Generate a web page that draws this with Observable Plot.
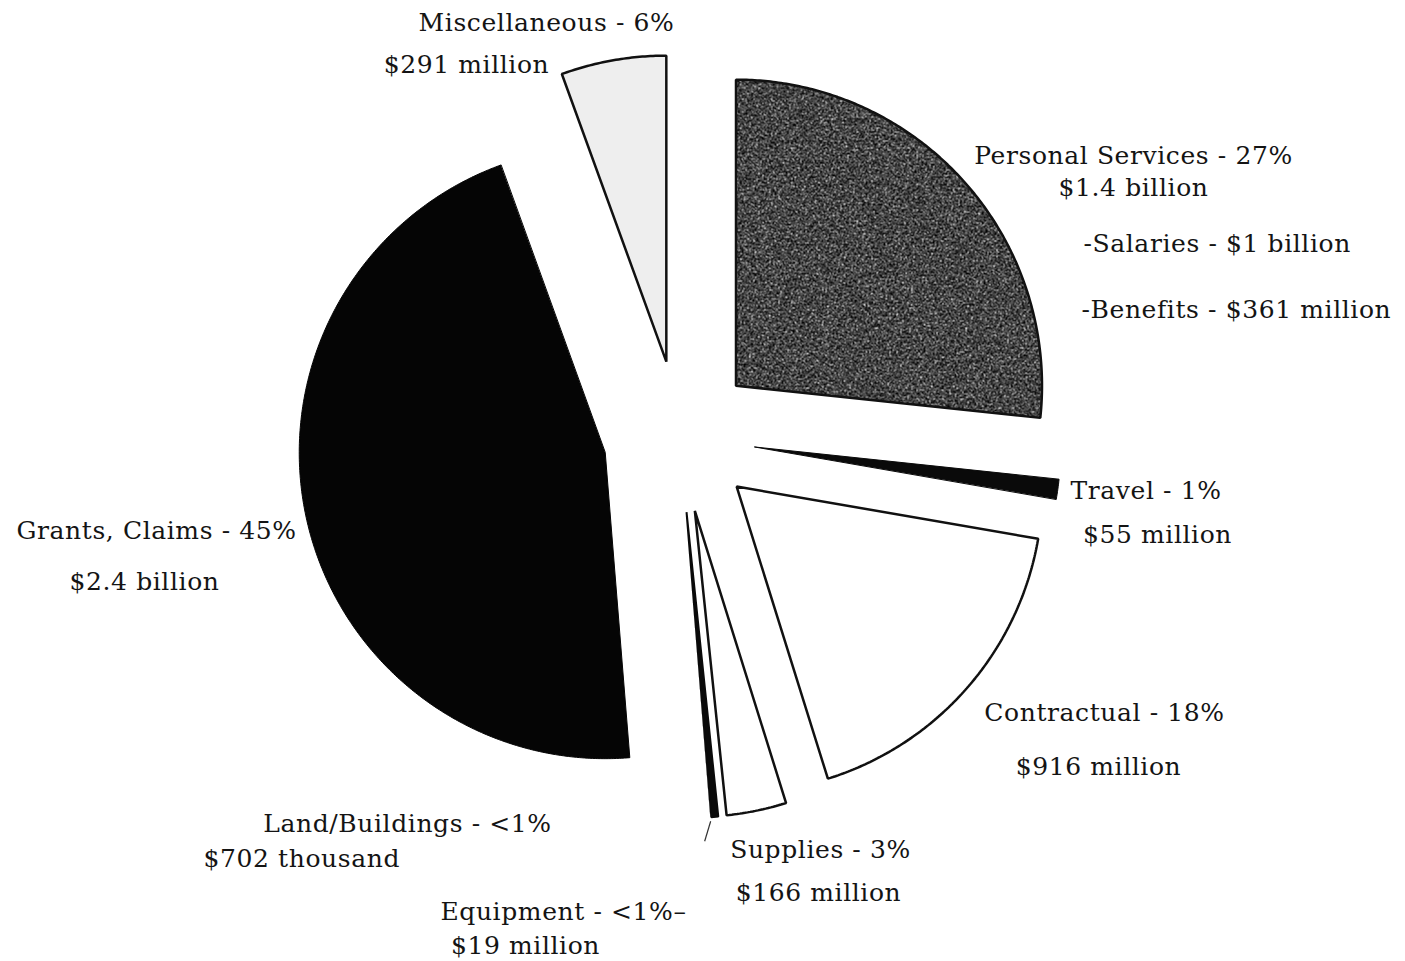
<!DOCTYPE html>
<html>
<head>
<meta charset="utf-8">
<script src="https://cdn.jsdelivr.net/npm/d3@7"></script>
<script src="https://cdn.jsdelivr.net/npm/@observablehq/plot@0.6"></script>
<style>
  html, body { margin: 0; padding: 0; background: #ffffff; }
  #chart svg { display: block; }
  #chart svg text { letter-spacing: 0.6px; }
</style>
</head>
<body>
<div id="chart"></div>
<script>
// ---------------- data ----------------
const categories = ["Personal Services", "Travel", "Contractual", "Supplies", "Equipment", "Land/Buildings", "Grants, Claims", "Miscellaneous"];
const amounts = [1400, 55, 916, 166, 19, 0.702, 2400, 291]; // $ millions
const percentLabels = ["27%", "1%", "18%", "3%", "<1%", "<1%", "45%", "6%"];
const amountLabels = ["$1.4 billion", "$55 million", "$916 million", "$166 million", "$19 million", "$702 thousand", "$2.4 billion", "$291 million"];
const subItemLabels = ["-Salaries - $1 billion", "-Benefits - $361 million"];

// ---------------- layout / styles ----------------
const W = 1405, H = 961;
const pieCenter = {x: 679, y: 436};
const pieRadius = 306;
const explode = 76;
const sliceStyles = {
  "Personal Services": {fill: "url(#grain)", stroke: "#111", strokeWidth: 2.5},
  "Travel":            {fill: "#0a0a0a", stroke: "#0a0a0a", strokeWidth: 1},
  "Contractual":       {fill: "#ffffff", stroke: "#111", strokeWidth: 2.5},
  "Supplies":          {fill: "#ffffff", stroke: "#111", strokeWidth: 2.5},
  "Equipment":         {fill: "#0a0a0a", stroke: "#0a0a0a", strokeWidth: 2},
  "Land/Buildings":    {fill: "#0a0a0a", stroke: "none", strokeWidth: 0},
  "Grants, Claims":    {fill: "#050505", stroke: "#050505", strokeWidth: 1},
  "Miscellaneous":     {fill: "#eeeeee", stroke: "#111", strokeWidth: 2.5}
};
// label positions: [x, y, anchor] for title line and amount line
const labelLayout = {
  "Personal Services": {t: [1133, 155, "middle"], a: [1133, 187, "middle"], suffix: ""},
  "Travel":            {t: [1070, 490, "start"],  a: [1157, 534, "middle"], suffix: ""},
  "Contractual":       {t: [1104, 712, "middle"], a: [1098, 766, "middle"], suffix: ""},
  "Supplies":          {t: [820, 849, "middle"],  a: [818, 892, "middle"], suffix: ""},
  "Equipment":         {t: [563, 911, "middle"],  a: [525, 945, "middle"], suffix: "–"},
  "Land/Buildings":    {t: [407, 823, "middle"],  a: [203, 858, "start"], suffix: ""},
  "Grants, Claims":    {t: [156, 530, "middle"],  a: [144, 581, "middle"], suffix: ""},
  "Miscellaneous":     {t: [546, 22, "middle"],   a: [466, 64, "middle"], suffix: ""}
};
const subItemLayout = [[1083, 243], [1081, 309]];

// ---------------- geometry from data ----------------
const rows = categories.map((c, i) => ({category: c, amount: amounts[i]}));
const arcs = d3.pie().sort(null).value(d => d.amount).startAngle(0).endAngle(2 * Math.PI)(rows);

const slices = arcs.map(a => {
  const mid = (a.startAngle + a.endAngle) / 2;
  const ox = pieCenter.x + explode * Math.sin(mid);
  const oy = pieCenter.y - explode * Math.cos(mid);
  const pts = [{x: ox, y: oy}];
  const n = Math.max(2, Math.ceil((a.endAngle - a.startAngle) / (Math.PI / 360)));
  for (let k = 0; k <= n; k++) {
    const t = a.startAngle + (a.endAngle - a.startAngle) * k / n;
    pts.push({x: ox + pieRadius * Math.sin(t), y: oy - pieRadius * Math.cos(t)});
  }
  return {category: a.data.category, mid, ox, oy, points: pts};
});

// leader for Land/Buildings (tiny slice)
const land = slices.find(s => s.category === "Land/Buildings");
const landOuter = {x: land.ox + (pieRadius + 4) * Math.sin(land.mid), y: land.oy - (pieRadius + 4) * Math.cos(land.mid)};
const leaders = [{x1: landOuter.x, y1: landOuter.y, x2: landOuter.x - 6, y2: landOuter.y + 20}];

// labels
const labels = [];
categories.forEach((c, i) => {
  const L = labelLayout[c];
  labels.push({x: L.t[0], y: L.t[1], anchor: L.t[2], text: `${c} - ${percentLabels[i]}${L.suffix}`});
  labels.push({x: L.a[0], y: L.a[1], anchor: L.a[2], text: amountLabels[i]});
});
subItemLabels.forEach((s, i) => labels.push({x: subItemLayout[i][0], y: subItemLayout[i][1], anchor: "start", text: s}));

const textOpts = {fontFamily: "DejaVu Serif", fontSize: 25, fill: "#141414", text: "text", x: "x", y: "y"};

const plot = Plot.plot({
  width: W,
  height: H,
  margin: 0,
  x: {domain: [0, W], range: [0, W], axis: null},
  y: {domain: [0, H], range: [0, H], axis: null},
  style: {background: "#ffffff"},
  marks: [
    ...slices.map(s => Plot.line(s.points, {
      x: "x", y: "y", curve: "linear-closed",
      fill: sliceStyles[s.category].fill,
      stroke: sliceStyles[s.category].stroke,
      strokeWidth: sliceStyles[s.category].strokeWidth,
      strokeLinejoin: "miter"
    })),
    Plot.link(leaders, {x1: "x1", y1: "y1", x2: "x2", y2: "y2", stroke: "#333", strokeWidth: 1.2}),
    Plot.text(labels.filter(d => d.anchor === "middle"), {...textOpts, textAnchor: "middle"}),
    Plot.text(labels.filter(d => d.anchor === "start"), {...textOpts, textAnchor: "start"})
  ]
});

// grain texture for Personal Services
const ns = "http://www.w3.org/2000/svg";
const defs = document.createElementNS(ns, "defs");
defs.innerHTML = `
  <filter id="noise" x="0" y="0" width="100%" height="100%">
    <feTurbulence type="fractalNoise" baseFrequency="0.55" numOctaves="2" seed="7" result="n"/>
    <feColorMatrix in="n" type="matrix" values="0 0 0 0 0  0 0 0 0 0  0 0 0 0 0  5 0 0 0 -2.2" result="dark"/>
    <feColorMatrix in="n" type="matrix" values="0 0 0 0 1  0 0 0 0 1  0 0 0 0 1  0 5 0 0 -3.0" result="light"/>
    <feMerge><feMergeNode in="dark"/><feMergeNode in="light"/></feMerge>
  </filter>
  <pattern id="grain" patternUnits="userSpaceOnUse" x="0" y="0" width="${W}" height="${H}">
    <rect width="${W}" height="${H}" fill="#585858"/>
    <rect width="${W}" height="${H}" fill="#000" filter="url(#noise)"/>
  </pattern>`;
plot.insertBefore(defs, plot.firstChild);

document.getElementById("chart").appendChild(plot);
</script>
</body>
</html>
